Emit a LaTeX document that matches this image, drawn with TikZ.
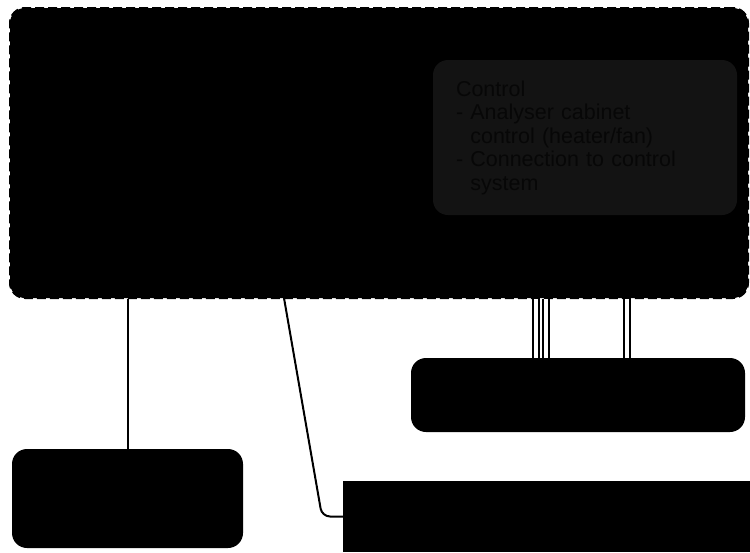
\documentclass[tikz,border=0pt]{standalone}
\usepackage{fontspec}
\setmainfont{Liberation Sans}
\definecolor{ctrlfill}{HTML}{131313}
\definecolor{ctrltext}{HTML}{070707}
\begin{document}
\begin{tikzpicture}[x=1pt,y=-1pt,
  blackbox/.style={fill=black, draw=none, rounded corners=15pt, inner sep=0pt},
  groupbox/.style={fill=black, draw=black, line width=2pt, dash pattern=on 9pt off 4pt, rounded corners=15pt, inner sep=0pt},
  ctrlbox/.style={fill=ctrlfill, draw=none, rounded corners=15pt, inner xsep=23pt, inner ysep=0pt, align=left,
    text=ctrltext, font=\fontsize{21.5}{23.5}\selectfont},
  wire/.style={draw=black, line width=2pt},
  dwire/.style={draw=black, line width=2pt, double=white, double distance=4pt}
]
\useasboundingbox (0,0) rectangle (750,552);

% nodes
\node[groupbox, minimum width=738pt, minimum height=290pt] (group) at (379,153) {};
\node[ctrlbox, minimum width=304pt, minimum height=155pt, text width=258pt] (ctrl) at (585,137.5)
  {Control\\- Analyser cabinet\\\hphantom{- }control (heater/fan)\\- Connection to control\\\hphantom{- }system};
\node[blackbox, minimum width=334pt, minimum height=74pt] (right) at (578,395) {};
\node[blackbox, minimum width=231pt, minimum height=99pt] (left) at (127.5,498.5) {};
\node[fill=black, draw=none, inner sep=0pt, minimum width=407pt, minimum height=71pt] (bottom) at (546.5,516.5) {};

% connectors
\coordinate (s1) at (left.north |- group.south);
\draw[wire] (s1) -- (left.north);

\coordinate (s2) at (284,298);
\coordinate (k2) at (322,516.5);
\draw[wire, rounded corners=8pt] (s2) -- (k2) -- (bottom.west);

\coordinate (d1) at (536,299);
\coordinate (d2) at (546,299);
\coordinate (d3) at (627,299);
\draw[dwire] (d1) -- (d1 |- right.north);
\draw[dwire] (d2) -- (d2 |- right.north);
\draw[dwire] (d3) -- (d3 |- right.north);
\end{tikzpicture}
\end{document}
